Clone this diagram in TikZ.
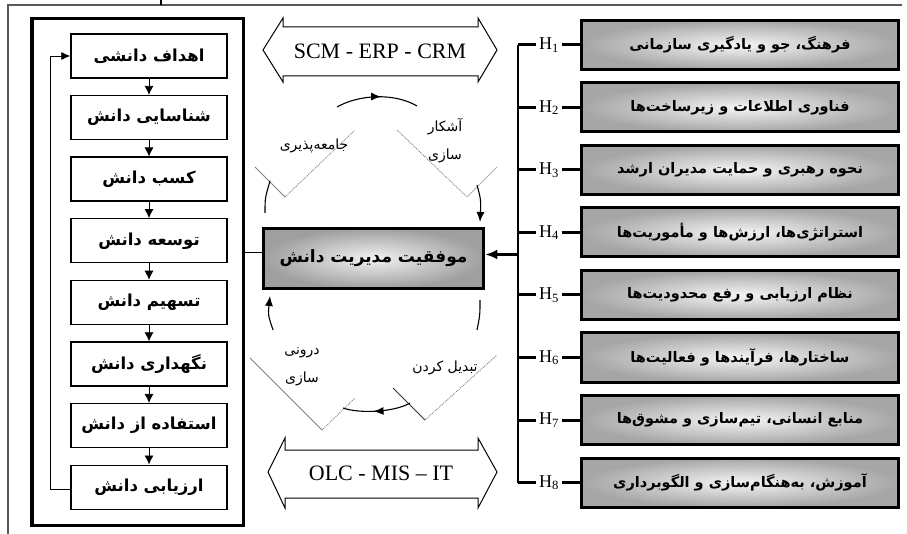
\documentclass[tikz,border=0pt]{standalone}
\usepackage{fontspec}
\setmainfont{Liberation Serif}
\newfontfamily\fa[Script=Arabic]{DejaVu Sans}
\TeXXeTstate=1
\usepackage{tikz}
\usetikzlibrary{arrows,arrows.meta,positioning,shapes,shadows,calc,decorations.markings}
\newcommand{\rtl}[1]{\beginR #1\endR}
\tikzset{
  stepbox/.style = {draw, line width=1.4pt, fill=white, minimum width=156pt, minimum height=44pt,
    inner sep=0pt, font=\fa\bfseries\fontsize{16.5}{19}\selectfont},
  factor/.style = {draw, line width=3pt, inner color=gray!8, outer color=gray!70,
    minimum width=317pt, minimum height=49pt, inner sep=0pt,
    drop shadow={shadow xshift=1.5pt, shadow yshift=-1.5pt, fill=gray!45},
    font=\fa\bfseries\fontsize{14.5}{17}\selectfont},
  goal/.style = {draw, line width=3.5pt, inner color=gray!10, outer color=gray!75,
    minimum width=220pt, minimum height=60pt, inner sep=0pt,
    font=\fa\bfseries\fontsize{17}{20}\selectfont},
  tick/.style = {line width=3pt},
  seci/.style = {font=\fa\fontsize{14}{16}\selectfont, align=center},
  vline/.style = {gray, line width=0.8pt},
  vdot/.style = {gray, line width=0.9pt, densely dotted},
  cyc/.style = {line width=1.1pt},
  midarrow/.style = {postaction={decorate}, decoration={markings,
    mark=at position 0.55 with {\arrow{Latex[length=10pt,width=8pt]}}}},
  bigarrow/.style = {draw, line width=1pt, fill=white},
  label/.style = {font=\fontsize{22}{24}\selectfont}
}
\begin{document}
\begin{tikzpicture}[x = 1pt, y = -1pt]
\useasboundingbox (0,0) rectangle (907,534);
% outer frame
\draw[gray!70!black, line width=1.6pt] (8,534) -- (8,5) -- (902,5);
\draw[line width=1.5pt] (161,0) -- (161,5);
% knowledge cycle steps
\node[draw, line width=3.5pt, fill=white, minimum width=211.5pt, minimum height=506.5pt,
  drop shadow={shadow xshift=1.5pt, shadow yshift=-1.5pt, fill=gray!45}] (kbox) at (137.5,272) {};
\foreach \name [count=\i] in {اهداف دانشی, شناسایی دانش, کسب دانش, توسعه دانش,
    تسهیم دانش, نگهداری دانش, استفاده از دانش, ارزیابی دانش}
  \node[stepbox] (s\i) at (149,{56+61.6*(\i-1)}) {\rtl{\name}};
\foreach \i [evaluate=\i as \j using int(\i+1)] in {1,...,7}
  \draw[-{Latex[length=9pt,width=9pt]}, line width=0.8pt] (s\i.south) -- (s\j.north);
\draw[-{Latex[length=9pt,width=8pt]}, line width=0.8pt] ([yshift=-2pt]s8.west) -- ++(-20,0) |- (s1.west);
% central node
\node[goal] (center) at (373.5,258.5) {\rtl{موفقیت مدیریت دانش}};
\draw[line width=0.8pt] ([yshift=6pt]center.west) -- ([yshift=6pt]center.west -| kbox.east);
% success factors
\coordinate (bus) at (518,263);
\foreach \name [count=\i] in {فرهنگ، جو و یادگیری سازمانی, فناوری اطلاعات و زیرساخت‌ها,
    نحوه رهبری و حمایت مدیران ارشد, استراتژی‌ها، ارزش‌ها و مأموریت‌ها,
    نظام ارزیابی و رفع محدودیت‌ها, ساختارها، فرآیندها و فعالیت‌ها,
    منابع انسانی، تیم‌سازی و مشوق‌ها, آموزش، به‌هنگام‌سازی و الگوبرداری}
{
  \node[factor] (r\i) at (740,{45+62.5*(\i-1)}) {\rtl{\name}};
  \node[font=\fontsize{18}{20}\selectfont, inner sep=2.5pt] (h\i) at (549,{45+62.5*(\i-1)}) {H\textsubscript{\i}};
  \draw[tick] (h\i.west -| bus) -- (h\i.west);
  \draw[tick] (h\i.east) -- (r\i.west);
}
\draw[line width=2.2pt] (h1.west -| bus) -- (h8.west -| bus);
\draw[-{Latex[length=12pt,width=10pt]}, line width=3pt] ([yshift=4pt]center.east -| bus) -- ([yshift=4pt]center.east);
% systems arrows
\draw[bigarrow] (263,50) -- (283,18) -- (283,27) -- (478,27) -- (478,18) -- (497,50)
  -- (478,82) -- (478,76) -- (283,76) -- (283,82) -- cycle;
\node[label] (top) at (380,51) {SCM - ERP - CRM};
\draw[bigarrow] (268,472) -- (285,438) -- (285,450) -- (478,450) -- (478,438) -- (497,472)
  -- (478,508) -- (478,498) -- (285,498) -- (285,508) -- cycle;
\node[label] (bottom) at (381,473) {OLC - MIS – IT};
% knowledge conversion
\draw[vline] (255,167) -- (285,197);
\draw[vdot] (285,197) -- (355,130);
\draw[vdot] (397,130) -- (467,197);
\draw[vline, gray!60] (467,197) -- (497,167);
\draw[vline] (250,358) -- (322,430);
\draw[vdot] (322,430) -- (355,398);
\draw[vline, gray!40!black] (393,388) -- (425,420);
\draw[vdot] (425,420) -- (497,355);
\draw[cyc, midarrow] (337,107) .. controls (360,94) and (395,93) .. (417,106);
\draw[cyc, -{Latex[length=10pt,width=8pt]}] (477,185) .. controls (481,200) .. (480,222);
\draw[cyc] (480,300) .. controls (480,315) .. (477,330);
\draw[cyc, midarrow] (410,403) .. controls (395,412) and (360,414) .. (343,408);
\draw[cyc, -{Latex[length=10pt,width=8pt]}] (273,330) .. controls (268,315) .. (270,296);
\draw[cyc] (265,213) .. controls (265,198) .. (270,181);
\node[seci] (soc) at (314,146) {\rtl{جامعه‌پذیری}};
\node[seci] (ext) at (445,141) {\rtl{آشکار}\\[12pt]\rtl{سازی}};
\node[seci] (int) at (302,367) {\rtl{درونی}\\[12pt]\rtl{سازی}};
\node[seci] (com) at (445,368) {\rtl{تبدیل کردن}};
\end{tikzpicture}
\end{document}
